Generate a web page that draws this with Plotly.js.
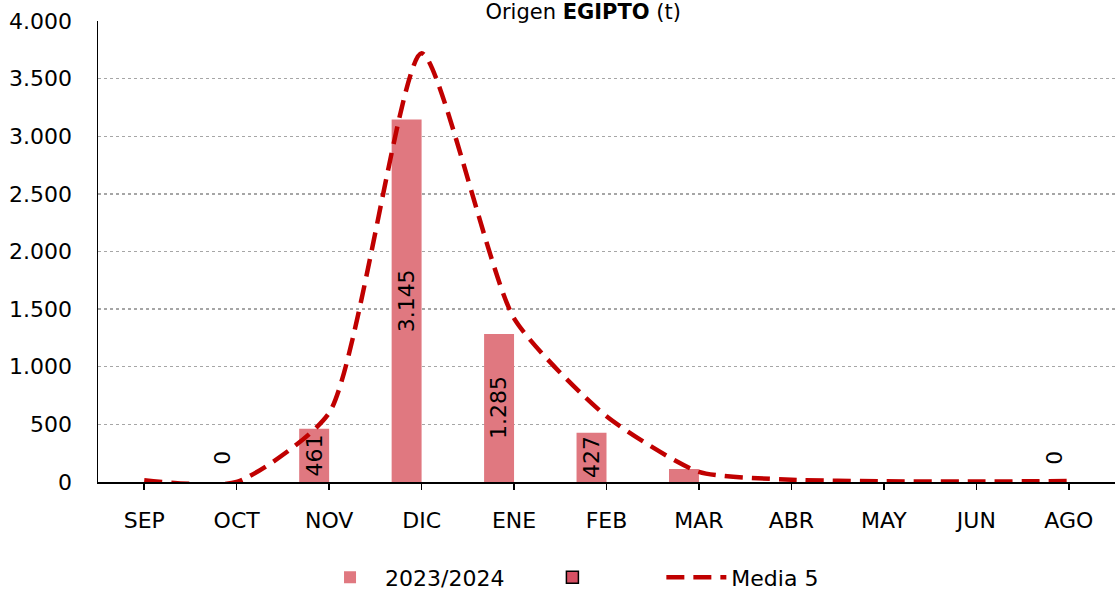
<!DOCTYPE html>
<html>
<head>
<meta charset="utf-8">
<script src="https://cdn.plot.ly/plotly-3.0.1.min.js"></script>
<style>html,body{margin:0;padding:0;background:#fff;}#chart{width:1115px;height:594px;}</style>
</head>
<body>
<div id="chart"></div>
<script>
const months = ['SEP','OCT','NOV','DIC','ENE','FEB','MAR','ABR','MAY','JUN','AGO'];
const season2324 = [null, 0, 461, 3145, 1285, 427, 113, null, null, null, 0];
const showLabel = [false, true, true, true, true, true, false, false, false, false, true];
const otherSeries = [null, null, null, null, null, null, null, null, null, null, null];
const media5 = [15, 0, 600, 3720, 1420, 570, 88, 20, 6, 4, 8];
const yTicks = [0, 500, 1000, 1500, 2000, 2500, 3000, 3500, 4000];

const FONT = 'DejaVu Sans';
const NB = '\u00a0';
function fmt(v){ return String(v).replace(/\B(?=(\d{3})+(?!\d))/g, '.'); }

const traces = [
  {type:'bar', name:'2023/2024' + NB.repeat(4), x:months, y:season2324, marker:{color:'#E07880'}, hoverinfo:'y'},
  {type:'bar', name:NB.repeat(7), x:months, y:otherSeries, marker:{color:'#D64F63', line:{color:'#000', width:1.5}}},
  {type:'scatter', mode:'lines', name:'Media 5', x:months, y:media5,
   line:{color:'#C00000', width:4.5, dash:'18px,9px', shape:'spline', smoothing:0.6}}
];

const annotations = [];
season2324.forEach((v, i) => {
  if (v === null || !showLabel[i]) return;
  if (v > 0) {
    annotations.push({x:months[i], y:v/2, xref:'x', yref:'y', text:fmt(v), showarrow:false,
      textangle:-90, xshift:-15, font:{family:FONT, size:22, color:'#000'}});
  } else {
    annotations.push({x:months[i], y:0, xref:'x', yref:'y', text:fmt(v), showarrow:false,
      textangle:-90, xshift:-15, yshift:24, font:{family:FONT, size:22, color:'#000'}});
  }
});

const layout = {
  width:1115, height:594,
  margin:{l:98, r:0, t:21, b:112},
  paper_bgcolor:'#fff', plot_bgcolor:'#fff',
  separators:',.',
  font:{family:FONT, size:22, color:'#000'},
  title:{text:'Origen <b>EGIPTO</b> (t)', x:0.523, xanchor:'center', y:0.981, yanchor:'middle', yref:'container',
    font:{family:FONT, size:21, color:'#000'}},
  barmode:'group', bargap:0.352, bargroupgap:0,
  xaxis:{type:'category', categoryorder:'array', categoryarray:months, automargin:false,
    showline:true, linecolor:'#000', linewidth:1.5, ticks:'outside', ticklen:6, tickcolor:'#000', tickwidth:1.5,
    ticklabelstandoff:12, showgrid:false, zeroline:false, tickfont:{family:FONT, size:22}},
  yaxis:{range:[0,4000], tickvals:yTicks, ticktext:yTicks.map(fmt), showline:true, linecolor:'#000', linewidth:1.5,
    automargin:false, ticks:'', ticklabelstandoff:20, showgrid:true, gridcolor:'#A6A6A6', griddash:'dot', gridwidth:1.3,
    zeroline:false, tickfont:{family:FONT, size:22}},
  showlegend:true,
  legend:{orientation:'h', x:0.2134, xanchor:'left', y:0.028, yref:'container', yanchor:'middle', font:{family:FONT, size:22},
    itemwidth:60, traceorder:'normal', bgcolor:'rgba(0,0,0,0)'},
  annotations:annotations
};

Plotly.newPlot('chart', traces, layout, {displayModeBar:false, staticPlot:true});
</script>
</body>
</html>
